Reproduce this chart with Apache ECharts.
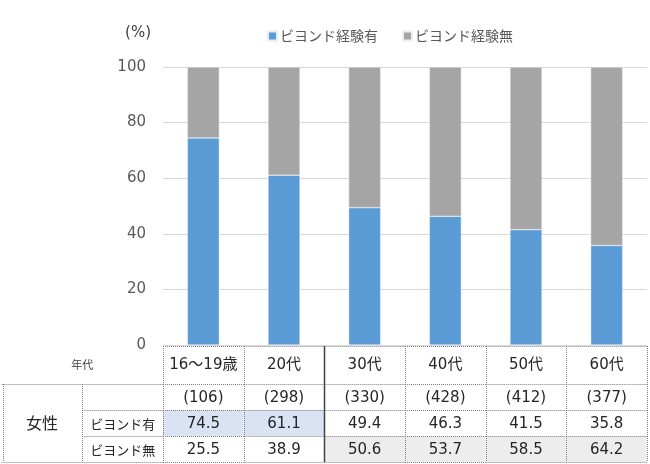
<!DOCTYPE html>
<html><head><meta charset="utf-8">
<script src="https://cdn.jsdelivr.net/npm/echarts@6/dist/echarts.min.js"></script>
<style>html,body{margin:0;padding:0;background:#fff}#c{width:650px;height:464px}</style>
</head><body><div id="c"></div>
<script>
const categories = ['16〜19歳', '20代', '30代', '40代', '50代', '60代'];
const sampleSizes = [106, 298, 330, 428, 412, 377];
const withBeyond = [74.5, 61.1, 49.4, 46.3, 41.5, 35.8];
const withoutBeyond = [25.5, 38.9, 50.6, 53.7, 58.5, 64.2];
const seriesNames = ['ビヨンド経験有', 'ビヨンド経験無'];
const rowKeys = ['n', 'yes', 'no'];
const rowLabels = ['', 'ビヨンド有', 'ビヨンド無'];
const groupLabel = '女性';
const headerLabel = '年代';

const NUM_FONT = '"DejaVu Sans", "Noto Sans CJK JP", sans-serif';
const JP_FONT = '"Noto Sans CJK JP", sans-serif';
const BLUE = '#5B9BD5', GREY = '#A5A5A5';
const HL_BLUE = '#DAE3F3', HL_GREY = '#EDEDED';
const DOT = { stroke: '#7F7F7F', lineWidth: 1, lineDash: [1, 1] };
const SOLID = { stroke: '#404040', lineWidth: 1.5 };

const cells = [];
for (let r = 0; r < rowKeys.length; r++) {
  for (let c = 0; c < categories.length; c++) cells.push([c, r]);
}
function cellText(c, r) {
  if (r === 0) return '(' + sampleSizes[c] + ')';
  const v = r === 1 ? withBeyond[c] : withoutBeyond[c];
  return v.toFixed(1);
}
function cellFill(c, r) {
  if (r === 1 && withBeyond[c] > 50) return HL_BLUE;
  if (r === 2 && withoutBeyond[c] > 50) return HL_GREY;
  return '#fff';
}
function ln(x1, y1, x2, y2, style) {
  const sx = (x1 === x2) ? Math.round(x1) + 0.5 : x1;
  const sy = (y1 === y2) ? Math.round(y1) + 0.5 : y1;
  const ex = (x1 === x2) ? sx : x2;
  const ey = (y1 === y2) ? sy : y2;
  return { type: 'line', z2: 10, shape: { x1: sx, y1: sy, x2: ex, y2: ey }, style: Object.assign({}, style) };
}
function renderItem(params, api) {
  const c = api.value(0), r = api.value(1);
  const p = api.coord([c, r]);
  const s = api.size([1, 1]);
  const w = s[0], h = s[1];
  const x0 = p[0] - w / 2, y0 = p[1] - h / 2, x1 = x0 + w, y1 = y0 + h;
  const last = categories.length - 1;
  const ch = [];
  ch.push({ type: 'rect', z2: 0, shape: { x: x0, y: y0, width: w, height: h }, style: { fill: cellFill(c, r) } });
  ch.push({ type: 'text', z2: 11, style: { text: cellText(c, r), x: p[0], y: p[1] + 1, align: 'center', verticalAlign: 'middle', font: '15px ' + NUM_FONT, fill: '#262626' } });
  ch.push(ln(x0, y0, x1, y0, DOT));
  if (r === rowKeys.length - 1) ch.push(ln(x0, y1, x1, y1, DOT));
  ch.push(ln(x0, y0, x0, y1, c === 2 ? SOLID : DOT));
  if (c === last) ch.push(ln(x1, y0, x1, y1, DOT));
  if (r === 0) {
    const ht = y0 - 1.5 * h;
    ch.push(ln(x0, ht + 1, x1, ht + 1, DOT));
    ch.push(ln(x0, ht + 1, x0, y0, c === 2 ? SOLID : DOT));
    if (c === last) ch.push(ln(x1, ht + 1, x1, y0, DOT));
    if (c === 0) {
      ch.push({ type: 'text', z2: 11, style: { text: headerLabel, x: x0 - w, y: ht + 0.75 * h, align: 'center', verticalAlign: 'middle', font: '11px ' + JP_FONT, fill: '#404040' } });
    }
  }
  if (c === 0) {
    ch.push(ln(x0 - w, y0, x0, y0, DOT));
    ch.push(ln(x0 - w, y0, x0 - w, y1, DOT));
    if (r === rowKeys.length - 1) ch.push(ln(x0 - 2 * w, y1, x0, y1, DOT));
    ch.push({ type: 'text', z2: 11, style: { text: rowLabels[r], x: x0 - w / 2, y: p[1] + 1, align: 'center', verticalAlign: 'middle', font: '13px ' + JP_FONT, fill: '#262626' } });
    ch.push(ln(x0 - 2 * w + 1, y0, x0 - 2 * w + 1, y1, DOT));
    if (r === 0) ch.push(ln(x0 - 2 * w, y0, x0 - w, y0, DOT));
    if (r === 1) {
      ch.push({ type: 'text', z2: 11, style: { text: groupLabel, x: x0 - 1.5 * w, y: p[1], align: 'center', verticalAlign: 'middle', font: '16px ' + JP_FONT, fill: '#262626' } });
    }
  }
  return { type: 'group', children: ch };
}

const chart = echarts.init(document.getElementById('c'));
chart.setOption({
  animation: false,
  backgroundColor: '#fff',
  legend: {
    left: 262, top: 24, itemWidth: 9, itemHeight: 9, itemGap: 24,
    icon: 'rect',
    data: seriesNames,
    textStyle: { fontFamily: JP_FONT, fontSize: 14, color: '#595959', padding: [0, 0, 0, -2] }
  },
  grid: [
    { left: 163, top: 67, width: 484, height: 278 },
    { left: 163, top: 384, width: 484, height: 78 }
  ],
  xAxis: [
    { gridIndex: 0, type: 'category', data: categories,
      axisLine: { lineStyle: { color: '#D9D9D9' } }, axisTick: { show: false },
      axisLabel: { margin: 20, verticalAlign: 'middle', fontFamily: NUM_FONT, fontSize: 15, color: '#262626', interval: 0 } },
    { gridIndex: 1, type: 'category', data: categories, show: false }
  ],
  yAxis: [
    { gridIndex: 0, type: 'value', min: 0, max: 100, interval: 20,
      name: '(%)', nameLocation: 'end', nameGap: 26,
      nameTextStyle: { fontFamily: NUM_FONT, fontSize: 15, color: '#404040', align: 'right', padding: [0, 12, 0, 0] },
      axisLine: { show: false }, axisTick: { show: false },
      splitLine: { lineStyle: { color: '#D9D9D9' } },
      axisLabel: { margin: 17, fontFamily: NUM_FONT, fontSize: 15, color: '#595959' } },
    { gridIndex: 1, type: 'category', data: rowKeys, inverse: true, show: false }
  ],
  series: [
    { name: seriesNames[0], type: 'bar', stack: 'a', xAxisIndex: 0, yAxisIndex: 0, data: withBeyond, barWidth: 32, itemStyle: { color: BLUE, borderColor: '#E6EEF7', borderWidth: 0.5 } },
    { name: seriesNames[1], type: 'bar', stack: 'a', xAxisIndex: 0, yAxisIndex: 0, data: withoutBeyond, barWidth: 32, itemStyle: { color: GREY, borderColor: '#EEEEEE', borderWidth: 0.5 } },
    { type: 'custom', xAxisIndex: 1, yAxisIndex: 1, data: cells, renderItem: renderItem, clip: false, silent: true }
  ]
});
</script>
</body></html>
